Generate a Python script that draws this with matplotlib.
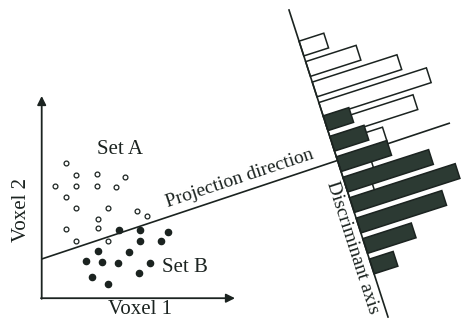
import numpy as np
import matplotlib
matplotlib.use("Agg")
import matplotlib.pyplot as plt
from matplotlib.transforms import Affine2D

# ---- data ----
setA_x = [65.7, 76, 97.3, 125, 55, 76, 97.3, 116, 66, 76, 108.3, 136.7, 146.7, 97.7, 66, 97.7, 76, 107.7]
setA_y = [163.3, 175, 174.3, 176.7, 185.7, 185.7, 185.7, 186.7, 196.7, 207.7, 207.7, 210.7, 216, 219, 229, 227.7, 241, 240.7]
setB_x = [119.3, 140, 168.3, 140, 161, 98.3, 129.3, 86, 101.7, 118.3, 150, 139.3, 91.7, 108.3]
setB_y = [230, 230, 231.7, 241, 240.7, 250.7, 251.7, 260.7, 261.7, 262.7, 262.7, 273.3, 276.7, 284.3]

# histograms along the discriminant axis (position along axis, bar length)
white_pos = [40.5, 62, 83.5, 105, 126.5, 148, 169.5, 191]
white_len = [26, 53, 89, 113, 92, 53, 32, 26]
dark_pos = [119, 140.5, 162, 183.5, 205, 226.5, 248, 269.5]
dark_len = [27, 36, 53, 90, 111, 90, 51, 25]

labels = dict(x="Voxel 1", y="Voxel 2", a="Set A", b="Set B",
              proj="Projection direction", disc="Discriminant axis")

# ---- figure ----
fig = plt.figure(figsize=(4.61, 3.27), dpi=100)
ax = fig.add_axes([0, 0, 1, 1])
ax.set_xlim(0, 461)
ax.set_ylim(327, 0)
ax.axis("off")

ink = "#1b2320"
dark_fill = "#2c3a33"
serif = "Liberation Serif"

# coordinate axes with arrows
ax.annotate("", xy=(41.7, 96), xytext=(41.7, 298.8),
            arrowprops=dict(arrowstyle="-|>", lw=1.3, color=ink, mutation_scale=13,
                            shrinkA=0, shrinkB=0))
ax.annotate("", xy=(235, 298.2), xytext=(41.0, 298.2),
            arrowprops=dict(arrowstyle="-|>", lw=1.3, color=ink, mutation_scale=13,
                            shrinkA=0, shrinkB=0))

# projection direction line
ax.plot([41.7, 450], [259, 123], color=ink, lw=1.2, zorder=1, solid_capstyle="butt")

# scatter points
ax.scatter(setA_x, setA_y, s=12, facecolors="white", edgecolors=ink, linewidths=0.9, zorder=3)
ax.scatter(setB_x, setB_y, s=20, color=ink, zorder=3)

# local frame of the discriminant axis
O = np.array([289.0, 10.0])
E = np.array([388.0, 317.0])
u = (E - O) / np.linalg.norm(E - O)
v = np.array([u[1], -u[0]])
aff = Affine2D(np.array([[v[0], u[0], O[0]],
                         [v[1], u[1], O[1]],
                         [0, 0, 1]]))
tr = aff + ax.transData

ax.barh(white_pos, white_len, height=15.5, left=0, color="white", edgecolor=ink,
        linewidth=1.1, transform=tr, zorder=2)
ax.barh(dark_pos, dark_len, height=15.5, left=0, color=dark_fill, edgecolor=ink,
        linewidth=1.1, transform=tr, zorder=2.5)

L = np.linalg.norm(E - O)
ax.plot([0, 0], [0, L], color=ink, lw=1.2, transform=tr, zorder=4)

# texts
ax.text(140, 309, labels["x"], fontsize=15, family=serif, ha="center", va="center", color=ink)
ax.text(21, 210, labels["y"], fontsize=15, family=serif, ha="center", va="center",
        rotation=90, color=ink)
ax.text(120, 150, labels["a"], fontsize=15, family=serif, ha="center", va="center", color=ink)
ax.text(185, 268, labels["b"], fontsize=15, family=serif, ha="center", va="center", color=ink)
ang = np.degrees(np.arctan2(259 - 123, 450 - 41.7))
ax.text(240, 178, labels["proj"], fontsize=14, family=serif, ha="center", va="center",
        rotation=ang, color=ink)
dang = -np.degrees(np.arctan2(u[1], u[0]))
ax.text(352.5, 247.5, labels["disc"], fontsize=14, family=serif, ha="center", va="center",
        rotation=dang, color=ink)

fig.savefig("out.png", dpi=100, facecolor="white")
